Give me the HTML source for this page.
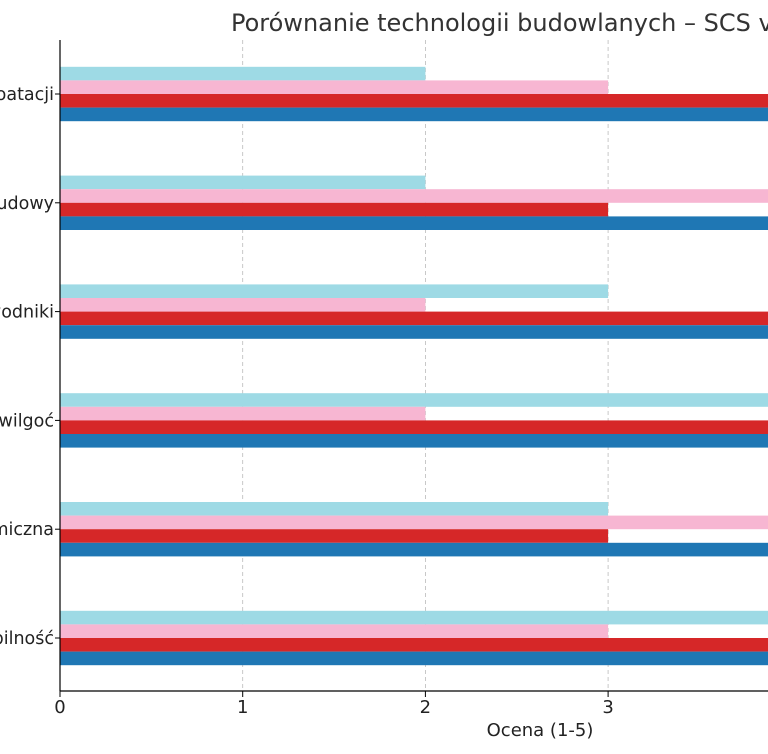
<!DOCTYPE html>
<html><head><meta charset="utf-8"><style>
body{margin:0;width:768px;height:750px;overflow:hidden;background:#fff;font-family:"DejaVu Sans","Liberation Sans",sans-serif}
</style></head><body>
<svg id="chart" width="768" height="750" xmlns="http://www.w3.org/2000/svg" font-family="DejaVu Sans, Liberation Sans, sans-serif">
<text x="231" y="31" font-size="24" fill="#333">Porównanie technologii budowlanych – SCS vs inne</text>
<g id="grid"></g><g id="bars"></g><g id="axes"></g>
<text x="540" y="736" font-size="18" text-anchor="middle" fill="#222">Ocena (1-5)</text>
</svg>
<script>
const categories=["Koszty eksploatacji","Czas budowy","Mostki i przewodniki","Odporność na wilgoć","Izolacja termiczna","Stabilność"];
const seriesNames=["Technologia A","Technologia B","Technologia C","SCS"];
const seriesA=[2,2,3,4,3,4];
const seriesB=[3,4,2,2,4,3];
const seriesC=[4,3,4,4,3,4];
const seriesSCS=[5,5,5,5,5,5];
const xTicks=[0,1,2,3,4,5];
const colors=["#9edae5","#f7b6d2","#d62728","#1f77b4"];
const NS="http://www.w3.org/2000/svg";
const x=v=>60+v*182.7;
const yc=i=>94+i*108.8;
const bh=13.6;
function mk(t,a,p){const e=document.createElementNS(NS,t);for(const k in a)e.setAttribute(k,a[k]);p.appendChild(e);return e;}
const grid=document.getElementById('grid'),bars=document.getElementById('bars'),axes=document.getElementById('axes');
xTicks.forEach(t=>{
 if(t>0){const l=mk('line',{x1:x(t),x2:x(t),y1:40,y2:691,stroke:'#bbb','stroke-dasharray':'4,3','stroke-width':0.8},grid);
 
 }
 const tk=mk('line',{x1:x(t),x2:x(t),y1:691,y2:697,stroke:'#000'},axes);
 
 
 const tx=mk('text',{x:x(t),y:713,'font-size':18,'text-anchor':'middle',fill:'#222'},axes);tx.textContent=t;
 
 
});
const all=[seriesA,seriesB,seriesC,seriesSCS];
categories.forEach((c,i)=>{
 all.forEach((s,j)=>{
  const r=mk('rect',{x:x(0),y:yc(i)-2*bh+j*bh,width:x(s[i])-x(0),height:bh,fill:colors[j]},bars);
  
  
 });
 const tk=mk('line',{x1:55,x2:60,y1:yc(i),y2:yc(i),stroke:'#000'},axes);
 
 
 const t=mk('text',{x:54,y:yc(i)+6,'font-size':17.5,'text-anchor':'end',fill:'#222'},axes);t.textContent=c;
 
 
});
const ax=mk('line',{x1:60,x2:60,y1:40,y2:691,stroke:'#000','stroke-width':1.2},axes);


const bx=mk('line',{x1:60,x2:768,y1:691,y2:691,stroke:'#000','stroke-width':1.2},axes);


</script>
</body></html>
